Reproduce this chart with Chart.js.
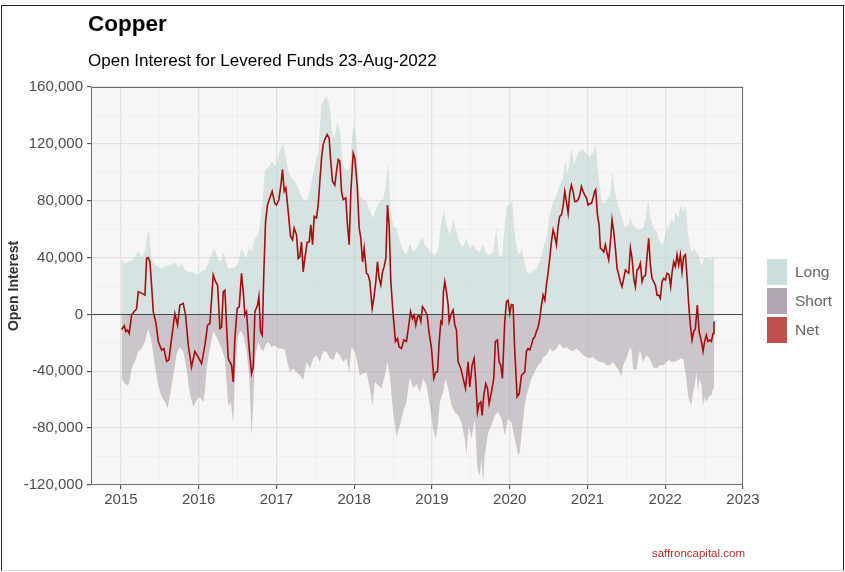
<!DOCTYPE html>
<html>
<head>
<meta charset="utf-8">
<title>Copper - Open Interest</title>
<script src="https://cdn.jsdelivr.net/npm/chart.js@4.4.1/dist/chart.umd.min.js"></script>
<style>
  body { margin: 0; background: #fff; font-family: 'Liberation Sans', Arial, sans-serif; }
  #wrap { position: relative; width: 845px; height: 572px; overflow: hidden; }
  #frame { position: absolute; left: 1px; top: 5px; width: 841px; height: 564px;
           border-left: 1px solid #222; border-top: 1px solid #222; border-right: 1px solid #222;
           border-bottom: 1px solid #ddd; pointer-events: none; }
  canvas { position: absolute; left: 0; top: 0; }
  .title { position: absolute; left: 88px; top: 13px; font-size: 22.5px; font-weight: bold; line-height: 1; color: #000; }
  .subtitle { position: absolute; left: 88px; top: 52px; font-size: 17px; line-height: 1; color: #000; }
  .footer { position: absolute; right: 100px; top: 548px; font-size: 11.5px; line-height: 1; color: #c0282d; }
  .legend { position: absolute; left: 767px; top: 259px; }
  .legend .key { height: 26px; margin-bottom: 3px; display: flex; align-items: center;
                 font-size: 15.5px; color: #666; }
  .legend .swatch { width: 20px; height: 26px; margin-right: 8px; }
</style>
</head>
<body>
<div id="wrap">
  <canvas id="chart" width="845" height="572"></canvas>
  <div class="title">Copper</div>
  <div class="subtitle">Open Interest for Levered Funds 23-Aug-2022</div>
  <div class="legend" id="legend"></div>
  <div class="footer">saffroncapital.com</div>
  <div id="frame"></div>
</div>
<script>
// weekly positions, in thousands of contracts

const longYears = [
  2015.009, 2015.051, 2015.094, 2015.137, 2015.180, 2015.223, 2015.266, 2015.309, 2015.343, 2015.364,
  2015.394, 2015.437, 2015.480, 2015.523, 2015.566, 2015.608, 2015.651, 2015.694, 2015.737, 2015.780,
  2015.823, 2015.866, 2015.908, 2015.951, 2015.994, 2016.037, 2016.080, 2016.123, 2016.166, 2016.200,
  2016.217, 2016.251, 2016.286, 2016.316, 2016.346, 2016.380, 2016.423, 2016.465, 2016.508, 2016.551,
  2016.585, 2016.615, 2016.650, 2016.680, 2016.723, 2016.765, 2016.787, 2016.817, 2016.851, 2016.885,
  2016.915, 2016.945, 2016.980, 2017.023, 2017.057, 2017.087, 2017.108, 2017.151, 2017.194, 2017.237,
  2017.280, 2017.322, 2017.365, 2017.408, 2017.451, 2017.494, 2017.537, 2017.580, 2017.622, 2017.652,
  2017.687, 2017.721, 2017.751, 2017.785, 2017.815, 2017.858, 2017.901, 2017.944, 2017.978, 2018.008,
  2018.038, 2018.072, 2018.115, 2018.158, 2018.201, 2018.244, 2018.287, 2018.329, 2018.372, 2018.407,
  2018.437, 2018.467, 2018.501, 2018.544, 2018.587, 2018.629, 2018.672, 2018.715, 2018.758, 2018.801,
  2018.844, 2018.878, 2018.908, 2018.951, 2018.994, 2019.037, 2019.079, 2019.122, 2019.152, 2019.186,
  2019.229, 2019.272, 2019.315, 2019.358, 2019.401, 2019.444, 2019.486, 2019.529, 2019.572, 2019.615,
  2019.658, 2019.701, 2019.743, 2019.786, 2019.829, 2019.859, 2019.902, 2019.936, 2019.966, 2020.001,
  2020.031, 2020.065, 2020.099, 2020.129, 2020.151, 2020.172, 2020.215, 2020.258, 2020.301, 2020.343,
  2020.386, 2020.429, 2020.472, 2020.515, 2020.558, 2020.601, 2020.643, 2020.686, 2020.716, 2020.742,
  2020.772, 2020.793, 2020.828, 2020.858, 2020.901, 2020.943, 2020.986, 2021.029, 2021.072, 2021.093,
  2021.106, 2021.136, 2021.179, 2021.222, 2021.265, 2021.295, 2021.320, 2021.350, 2021.393, 2021.436,
  2021.479, 2021.522, 2021.552, 2021.586, 2021.629, 2021.672, 2021.715, 2021.749, 2021.779, 2021.809,
  2021.852, 2021.895, 2021.929, 2021.972, 2022.015, 2022.049, 2022.079, 2022.113, 2022.130, 2022.165,
  2022.199, 2022.229, 2022.250, 2022.272, 2022.293, 2022.336, 2022.379, 2022.400, 2022.422, 2022.465,
  2022.499, 2022.550, 2022.593, 2022.627
];
const longValues = [
  38.4, 36, 37, 38, 40.7, 45, 39.5, 45, 57, 58,
  39.5, 35, 33.6, 32.5, 33.6, 35, 35, 37, 33, 36,
  31, 30, 29.6, 29, 27.8, 30, 31, 36, 42, 46.6,
  44, 38.4, 37, 44, 38.4, 32.5, 32.5, 33, 36, 46.6,
  42, 39.5, 47.8, 44, 53.6, 56, 63, 77, 100.7, 103,
  105, 107.8, 104, 111, 117, 119.5, 114.8, 100.7, 96, 93.6,
  89, 83, 79.5, 82, 93.6, 105, 114.8, 147.8, 152.5, 153.6,
  145.4, 124, 126.6, 134.8, 129, 105, 100.7, 103, 129, 133.6,
  114.8, 84, 80.7, 79.5, 72.5, 67.8, 75, 79.5, 80.7, 91,
  106.6, 75, 62, 60.7, 51, 45.4, 42, 50, 44, 46.6,
  51, 55, 49, 46.6, 43, 42, 45.4, 65.4, 73.6, 63,
  56, 66.6, 58, 50, 47.8, 53.6, 46.6, 49, 45.4, 44,
  49, 42, 42, 44, 60.7, 42, 40.7, 63, 77, 77,
  80.7, 56, 44, 42, 46.6, 42, 30, 29, 31, 32.5,
  37, 46.6, 53.6, 70, 79.5, 84, 91, 96, 109, 98,
  107.8, 117, 105, 111, 114.8, 116, 112.5, 111, 113.6, 117,
  119.5, 100.7, 79.5, 78, 82, 84, 100.7, 86.6, 77, 70,
  60.7, 63, 67.8, 63, 60.7, 59.5, 60.7, 67.8, 80.7, 67.8,
  60.7, 58, 51, 49, 59.5, 62, 67.8, 64, 72.5, 67.8,
  77, 71.3, 76.5, 71.3, 56, 44, 46.6, 43, 44, 33.6,
  39.5, 39.5, 38.4, 40.7
];

const shortYears = [
  2015.009, 2015.051, 2015.094, 2015.116, 2015.137, 2015.180, 2015.223, 2015.266, 2015.309, 2015.351,
  2015.394, 2015.437, 2015.480, 2015.523, 2015.566, 2015.600, 2015.630, 2015.673, 2015.716, 2015.758,
  2015.801, 2015.844, 2015.887, 2015.930, 2015.973, 2016.016, 2016.058, 2016.080, 2016.101, 2016.144,
  2016.187, 2016.217, 2016.251, 2016.294, 2016.337, 2016.380, 2016.414, 2016.444, 2016.465, 2016.500,
  2016.530, 2016.551, 2016.585, 2016.615, 2016.650, 2016.680, 2016.701, 2016.723, 2016.765, 2016.800,
  2016.830, 2016.860, 2016.894, 2016.937, 2016.980, 2017.023, 2017.065, 2017.108, 2017.130, 2017.172,
  2017.215, 2017.258, 2017.301, 2017.344, 2017.387, 2017.430, 2017.472, 2017.515, 2017.558, 2017.601,
  2017.644, 2017.687, 2017.730, 2017.772, 2017.815, 2017.858, 2017.901, 2017.935, 2017.965, 2018.008,
  2018.038, 2018.072, 2018.115, 2018.158, 2018.201, 2018.235, 2018.265, 2018.308, 2018.351, 2018.394,
  2018.428, 2018.458, 2018.501, 2018.544, 2018.587, 2018.629, 2018.672, 2018.715, 2018.758, 2018.801,
  2018.844, 2018.887, 2018.930, 2018.972, 2019.015, 2019.049, 2019.079, 2019.101, 2019.144, 2019.174,
  2019.208, 2019.251, 2019.294, 2019.336, 2019.379, 2019.422, 2019.444, 2019.473, 2019.508, 2019.551,
  2019.585, 2019.615, 2019.636, 2019.658, 2019.679, 2019.722, 2019.765, 2019.808, 2019.851, 2019.894,
  2019.936, 2019.979, 2020.022, 2020.065, 2020.108, 2020.129, 2020.151, 2020.193, 2020.215, 2020.236,
  2020.279, 2020.322, 2020.365, 2020.408, 2020.429, 2020.472, 2020.515, 2020.558, 2020.601, 2020.643,
  2020.686, 2020.729, 2020.772, 2020.815, 2020.858, 2020.901, 2020.943, 2020.986, 2021.029, 2021.072,
  2021.115, 2021.158, 2021.200, 2021.243, 2021.286, 2021.329, 2021.372, 2021.415, 2021.436, 2021.458,
  2021.500, 2021.543, 2021.565, 2021.586, 2021.629, 2021.672, 2021.715, 2021.758, 2021.800, 2021.843,
  2021.886, 2021.929, 2021.972, 2022.015, 2022.049, 2022.079, 2022.122, 2022.165, 2022.207, 2022.229,
  2022.250, 2022.272, 2022.293, 2022.315, 2022.336, 2022.358, 2022.379, 2022.400, 2022.422, 2022.443,
  2022.465, 2022.486, 2022.507, 2022.529, 2022.550, 2022.572, 2022.593, 2022.615, 2022.627
];
const shortValues = [
  -45, -48.7, -50, -46, -38, -33, -26, -24, -19, -10,
  -19, -36, -50, -58, -61.6, -66, -57, -43, -27.5, -23,
  -26, -38, -56, -65, -60, -58, -61.6, -54.6, -38, -24,
  -12, -14.6, -18, -24, -31, -64, -61.6, -77, -47.5, -17,
  -12, -12, -17, -26, -43, -85, -64, -31, -19, -24,
  -26, -21.6, -19, -23, -21.6, -24, -24, -25, -31, -40.5,
  -38, -40.5, -43, -46, -33.4, -38, -31, -28.7, -33.4, -26,
  -26, -31, -32, -26, -28.7, -33.4, -31, -40.5, -23, -26,
  -33.4, -43, -41.6, -40.5, -52, -64, -47.5, -50, -52, -43,
  -33.4, -43, -68.7, -86, -78, -68.7, -61.6, -44, -52, -48.7,
  -54.6, -45, -50, -64, -80.5, -87.5, -75.8, -61.6, -54.6, -45,
  -52, -64, -68.7, -71, -75.8, -87.5, -99, -78, -87.5, -73.4,
  -108.7, -113.4, -101.6, -118, -99, -83, -78, -71, -68.7, -73.4,
  -85, -73.4, -75.8, -87.5, -99, -97, -85, -64, -57, -53.4,
  -45, -40.5, -35.8, -33.4, -30, -28.7, -24, -26, -24, -20.5,
  -24, -23, -25, -26, -24, -26, -28.7, -30, -31, -30,
  -32, -33.4, -33.4, -35.8, -35.8, -33.4, -37, -40.5, -44, -35.8,
  -31, -24, -24, -38, -39.3, -25, -33.4, -28.7, -31, -37,
  -38, -35.8, -35.8, -33.4, -32, -33.4, -33.4, -32, -31, -31,
  -38, -45, -57, -61.6, -64, -54.6, -50, -40.5, -54.6, -45,
  -50, -64, -58, -61.6, -59, -57, -57, -52, -40.5
];

const netYears = [
  2015.009, 2015.043, 2015.064, 2015.086, 2015.107, 2015.137, 2015.171, 2015.201, 2015.223, 2015.266,
  2015.309, 2015.330, 2015.351, 2015.373, 2015.394, 2015.416, 2015.450, 2015.480, 2015.523, 2015.553,
  2015.587, 2015.617, 2015.651, 2015.694, 2015.728, 2015.758, 2015.801, 2015.831, 2015.866, 2015.908,
  2015.951, 2015.994, 2016.037, 2016.080, 2016.114, 2016.144, 2016.166, 2016.187, 2016.217, 2016.243,
  2016.273, 2016.294, 2016.316, 2016.337, 2016.358, 2016.380, 2016.401, 2016.423, 2016.444, 2016.465,
  2016.495, 2016.521, 2016.551, 2016.573, 2016.594, 2016.615, 2016.645, 2016.680, 2016.701, 2016.723,
  2016.757, 2016.774, 2016.795, 2016.817, 2016.838, 2016.860, 2016.885, 2016.915, 2016.945, 2016.980,
  2017.001, 2017.031, 2017.057, 2017.078, 2017.100, 2017.121, 2017.151, 2017.181, 2017.207, 2017.228,
  2017.258, 2017.280, 2017.301, 2017.322, 2017.344, 2017.365, 2017.395, 2017.421, 2017.442, 2017.464,
  2017.485, 2017.515, 2017.537, 2017.558, 2017.580, 2017.601, 2017.622, 2017.652, 2017.678, 2017.695,
  2017.721, 2017.751, 2017.772, 2017.794, 2017.815, 2017.837, 2017.858, 2017.892, 2017.910, 2017.935,
  2017.957, 2017.987, 2018.008, 2018.038, 2018.064, 2018.085, 2018.107, 2018.128, 2018.158, 2018.179,
  2018.201, 2018.231, 2018.252, 2018.278, 2018.299, 2018.321, 2018.342, 2018.364, 2018.385, 2018.407,
  2018.428, 2018.449, 2018.471, 2018.501, 2018.531, 2018.557, 2018.578, 2018.608, 2018.638, 2018.672,
  2018.702, 2018.724, 2018.749, 2018.771, 2018.792, 2018.814, 2018.835, 2018.857, 2018.878, 2018.908,
  2018.938, 2018.964, 2018.994, 2019.024, 2019.049, 2019.071, 2019.092, 2019.114, 2019.131, 2019.148,
  2019.165, 2019.186, 2019.208, 2019.221, 2019.242, 2019.272, 2019.294, 2019.315, 2019.336, 2019.371,
  2019.401, 2019.431, 2019.465, 2019.486, 2019.516, 2019.542, 2019.564, 2019.585, 2019.606, 2019.628,
  2019.645, 2019.666, 2019.692, 2019.714, 2019.735, 2019.765, 2019.795, 2019.816, 2019.842, 2019.863,
  2019.885, 2019.906, 2019.936, 2019.958, 2019.979, 2020.001, 2020.022, 2020.043, 2020.065, 2020.095,
  2020.121, 2020.151, 2020.172, 2020.193, 2020.215, 2020.236, 2020.258, 2020.279, 2020.301, 2020.322,
  2020.343, 2020.365, 2020.386, 2020.408, 2020.429, 2020.451, 2020.472, 2020.493, 2020.515, 2020.536,
  2020.558, 2020.579, 2020.601, 2020.622, 2020.643, 2020.665, 2020.686, 2020.708, 2020.729, 2020.751,
  2020.772, 2020.793, 2020.815, 2020.836, 2020.858, 2020.879, 2020.901, 2020.922, 2020.943, 2020.965,
  2020.986, 2021.008, 2021.029, 2021.051, 2021.072, 2021.093, 2021.106, 2021.128, 2021.149, 2021.166,
  2021.188, 2021.209, 2021.230, 2021.252, 2021.273, 2021.295, 2021.316, 2021.338, 2021.359, 2021.380,
  2021.402, 2021.423, 2021.445, 2021.466, 2021.488, 2021.509, 2021.530, 2021.552, 2021.573, 2021.595,
  2021.616, 2021.638, 2021.659, 2021.680, 2021.702, 2021.723, 2021.745, 2021.766, 2021.787, 2021.809,
  2021.830, 2021.852, 2021.873, 2021.895, 2021.916, 2021.937, 2021.959, 2021.980, 2022.002, 2022.023,
  2022.049, 2022.070, 2022.087, 2022.109, 2022.130, 2022.152, 2022.173, 2022.195, 2022.216, 2022.237,
  2022.259, 2022.280, 2022.302, 2022.323, 2022.345, 2022.366, 2022.387, 2022.413, 2022.435, 2022.465,
  2022.486, 2022.507, 2022.529, 2022.550, 2022.572, 2022.593, 2022.615, 2022.627
];
const netValues = [
  -10.6, -8, -12, -11, -13.4, -0.5, 2, 3.8, 16, 15,
  13.6, 39.5, 40, 37, 20.7, 2, -6, -19, -25, -24,
  -33, -32, -17, 0.7, -7.5, 6.6, 7.8, -0.5, -21.6, -37,
  -26, -30, -34.6, -21.6, -7.5, -6.4, 11, 27.8, 23, 20.7,
  -10, -9, 16, 17, -7.5, -31, -33.4, -35.8, -47.5, -17,
  4.2, 5.4, 29, 16, -0.5, 2, -21.6, -41.6, -37, 2,
  6.6, 12.5, -12, -14.6, 30, 65.4, 77, 82, 86.6, 78,
  77, 80.7, 91, 102, 86.6, 89, 72.5, 55, 52.5, 60.7,
  56, 39.5, 40.7, 51, 30, 39.5, 50.8, 51, 63, 49,
  69, 67.8, 77, 93.6, 110, 119.5, 123, 126.6, 124, 110,
  93.6, 91, 100.7, 109, 107.8, 86.6, 80.7, 82, 65.4, 49,
  86.6, 113.6, 110, 91, 60.7, 53.6, 37, 46.6, 29, 27.8,
  23, 4.2, 11.3, 23, 37, 25.4, 20.7, 30, 33.6, 39.5,
  77, 63, 23, -0.5, -19, -17, -23, -24, -18, -19,
  -7.5, 2, -3, -0.5, -7.5, -1.6, -0.5, -5, 5.4, 3,
  -0.5, -13.4, -24, -45, -40.5, -40.5, -20, -5, -6.4, 16,
  23, 16, 6.6, -5, -0.5, 3, -7.5, -11, -33.4, -38,
  -45, -52, -33.4, -51, -35.8, -31, -47.5, -68.7, -62.8, -61.6,
  -71, -57, -48.7, -52, -62.8, -54.6, -45, -19, -18, -33.4,
  -35.8, -45, -5, 9, 10, 0.7, 7, 6.6, -26, -58,
  -56, -43, -41.6, -40.5, -26, -24, -25, -21.6, -17, -15.8,
  -12, -9, -3, 6.6, 13.6, 10, 20.7, 29, 39.5, 51,
  59.5, 55, 49, 62, 69, 70, 76, 86.6, 79.5, 71.3,
  85.4, 91, 86.6, 79.5, 79.5, 80.7, 84, 90, 86.6, 84,
  82, 77, 78, 78, 82, 86.6, 87.8, 70, 63, 46.6,
  45.4, 44, 49, 43, 38.4, 51, 66.6, 58, 46.6, 32.5,
  27.8, 23, 19.5, 25.4, 31.3, 30, 29, 46.6, 39.5, 25.4,
  19.5, 31.3, 32.5, 36, 23, 26.6, 27.3, 40.7, 53.6, 34.8,
  25.4, 23, 20.7, 13.6, 13.6, 11.3, 23, 25.4, 24.2, 29,
  28, 19.5, 29, 37, 33.6, 42, 34.8, 42, 30, 40.7,
  42, 26.6, 6.6, -7.5, -18, -12, -10, 6.6, -12, -19,
  -26, -19, -14.6, -19, -18, -19, -13.4, -5
];

const yearTicks = [2015, 2016, 2017, 2018, 2019, 2020, 2021, 2022, 2023];
const valueTicks = [-120000, -80000, -40000, 0, 40000, 80000, 120000, 160000];

const seriesNames = ['Long', 'Short', 'Net'];
const seriesColors = ['#cde0df', '#b2a6b2', '#c0504d'];

function toPoints(xs, ys) {
  return xs.map((x, i) => ({ x: x, y: ys[i] * 1000 }));
}

const isMajorX = v => yearTicks.some(t => Math.abs(t - v) < 1e-6);
const isMajorY = v => valueTicks.indexOf(v) !== -1;

// panel background, zero line and frame like the ggplot theme
const panel = {
  id: 'panel',
  beforeDraw(chart) {
    const { ctx, chartArea: a } = chart;
    ctx.save();
    ctx.fillStyle = '#f7f6f4';
    ctx.fillRect(a.left, a.top, a.right - a.left, a.bottom - a.top);
    ctx.restore();
  },
  afterDatasetsDraw(chart) {
    const { ctx, chartArea: a } = chart;
    const y0 = Math.round(chart.scales.y.getPixelForValue(0)) + 0.5;
    ctx.save();
    ctx.strokeStyle = '#4a4a4a';
    ctx.lineWidth = 1;
    ctx.beginPath();
    ctx.moveTo(a.left, y0);
    ctx.lineTo(a.right, y0);
    ctx.stroke();
    ctx.strokeStyle = '#6e6e6e';
    ctx.strokeRect(a.left + 0.5, a.top + 0.5, a.right - a.left - 1, a.bottom - a.top - 1);
    ctx.restore();
  }
};

Chart.defaults.font.family = "'Liberation Sans', Arial, sans-serif";

const chart = new Chart(document.getElementById('chart'), {
  type: 'line',
  data: {
    datasets: [
      {
        label: seriesNames[0],
        data: toPoints(longYears, longValues),
        backgroundColor: 'rgba(187, 212, 212, 0.55)',
        borderWidth: 0,
        pointRadius: 0,
        fill: 'origin',
        order: 2
      },
      {
        label: seriesNames[1],
        data: toPoints(shortYears, shortValues),
        backgroundColor: 'rgba(170, 156, 170, 0.55)',
        borderWidth: 0,
        pointRadius: 0,
        fill: 'origin',
        order: 1
      },
      {
        label: seriesNames[2],
        data: toPoints(netYears, netValues),
        borderColor: '#a80c0c',
        borderWidth: 1.6,
        pointRadius: 0,
        fill: false,
        order: 0
      }
    ]
  },
  options: {
    responsive: false,
    animation: false,
    devicePixelRatio: 1,
    layout: { padding: { top: 87, right: 102, bottom: 0, left: 0 } },
    plugins: {
      legend: { display: false },
      tooltip: { enabled: false }
    },
    scales: {
      x: {
        type: 'linear',
        min: 2014.615,
        max: 2023,
        border: { display: false },
        grid: {
          color: c => isMajorX(c.tick.value) ? '#e4e2e0' : '#eeedeb',
          lineWidth: c => isMajorX(c.tick.value) ? 1.3 : 0.8,
          tickColor: c => isMajorX(c.tick.value) ? '#333' : 'rgba(0,0,0,0)',
          tickLength: 4,
          tickWidth: 1
        },
        ticks: {
          stepSize: 0.5,
          includeBounds: false,
          autoSkip: false,
          maxRotation: 0,
          padding: 2,
          color: '#4d4d4d',
          font: { size: 15 },
          callback: v => isMajorX(v) ? String(Math.round(v)) : ''
        },
        afterFit(scale) { scale.height = 87; }
      },
      y: {
        min: -120000,
        max: 160000,
        border: { display: false },
        grid: {
          color: c => isMajorY(c.tick.value) ? '#e4e2e0' : '#eeedeb',
          lineWidth: c => isMajorY(c.tick.value) ? 1.3 : 0.8,
          tickColor: c => isMajorY(c.tick.value) ? '#333' : 'rgba(0,0,0,0)',
          tickLength: 4,
          tickWidth: 1
        },
        ticks: {
          stepSize: 20000,
          autoSkip: false,
          padding: 4,
          color: '#4d4d4d',
          font: { size: 15 },
          callback: v => isMajorY(v) ? v.toLocaleString('en-US') : ''
        },
        title: {
          display: true,
          text: 'Open Interest',
          color: '#333',
          font: { size: 14, weight: 'bold' },
          padding: { top: 6, bottom: 0 }
        },
        afterFit(scale) { scale.width = 91; }
      }
    }
  },
  plugins: [panel]
});

// legend keys, filled boxes as in the original
const legendEl = document.getElementById('legend');
seriesNames.forEach((name, i) => {
  const key = document.createElement('div');
  key.className = 'key';
  const sw = document.createElement('span');
  sw.className = 'swatch';
  sw.style.background = seriesColors[i];
  key.appendChild(sw);
  key.appendChild(document.createTextNode(name));
  legendEl.appendChild(key);
});
</script>
</body>
</html>
